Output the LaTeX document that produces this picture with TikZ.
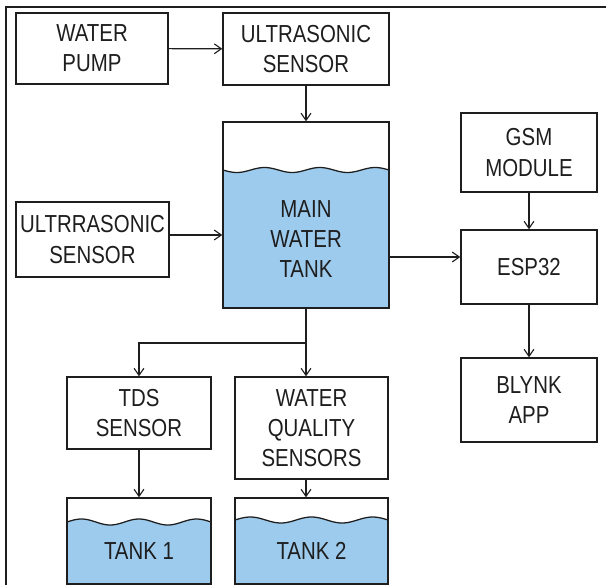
\documentclass[tikz,border=0pt]{standalone}
\usepackage{fontspec}
\setmainfont{Liberation Sans}[FakeStretch=0.83]
\usetikzlibrary{arrows.meta,backgrounds}
\definecolor{water}{RGB}{157,203,237}
\definecolor{ink}{RGB}{30,30,30}
\begin{document}
\begin{tikzpicture}[x=0.025cm, y=-0.025cm, >={Straight Barb[length=5pt,width=7pt]},
    every node/.style={font=\fontsize{17.5}{21.5}\selectfont, text=ink, align=center},
    blk/.style={draw=ink, line width=1pt, inner sep=0pt},
    link/.style={->, draw=ink, line width=0.8pt}]
    \useasboundingbox (0,0) rectangle (606,585);
    % 外枠（上と左だけ見える）
    \draw[ink, line width=1.4pt] (6,600) -- (6,7) -- (620,7);

    % 左上のブロック
    \node[blk, minimum width=3.8cm, minimum height=1.775cm] (pump) at (92,48.5) {WATER\\PUMP};
    \node[blk, minimum width=4.15cm, minimum height=1.8cm] (us1) at (306,49) {ULTRASONIC\\SENSOR};
    \node[blk, minimum width=3.825cm, minimum height=1.875cm] (us2) at (92.5,239.5) {ULTRRASONIC\\SENSOR};

    % メインタンク（外形のみ，文字は水面の下）
    \node[blk, minimum width=4.15cm, minimum height=4.65cm] (tank) at (306,215) {};
    \node (tanktxt) at (306,239) {MAIN\\WATER\\TANK};

    % 右側: GSM, ESP32, Blynk
    \node[blk, minimum width=3.4cm, minimum height=1.975cm] (gsm) at (529,152.5) {GSM\\MODULE};
    \node[blk, minimum width=3.4cm, minimum height=1.85cm] (esp) at (529,267) {ESP32};
    \node[blk, minimum width=3.4cm, minimum height=2.1cm] (blynk) at (529,400) {BLYNK\\APP};

    % 下段のセンサと小タンク
    \node[blk, minimum width=3.6cm, minimum height=1.8cm] (tds) at (139,413) {TDS\\SENSOR};
    \node[blk, minimum width=3.825cm, minimum height=2.55cm] (wq) at (311.5,428) {WATER\\QUALITY\\SENSORS};
    \node[blk, minimum width=3.6cm, minimum height=2.15cm] (tank1) at (139,541) {};
    \node (t1txt) at (139,551) {TANK 1};
    \node[blk, minimum width=3.825cm, minimum height=2.15cm] (tank2) at (311.5,541) {};
    \node (t2txt) at (311.5,551) {TANK 2};

    % 水面（波線）と水
    \begin{scope}[on background layer, samples=80]
      \fill[water, domain=223:389] plot ({\x}, {170+2.5*sin(6.506*(\x-223))}) -- (389,308) -- (223,308) -- cycle;
      \draw[ink, line width=0.9pt, domain=223:389] plot ({\x}, {170+2.5*sin(6.506*(\x-223))});
      \fill[water, domain=67:211] plot ({\x}, {522-3*sin(6.25*(\x-67))}) -- (211,584) -- (67,584) -- cycle;
      \draw[ink, line width=0.9pt, domain=67:211] plot ({\x}, {522-3*sin(6.25*(\x-67))});
      \fill[water, domain=235:388] plot ({\x}, {520-3*sin(5.882*(\x-235))}) -- (388,584) -- (235,584) -- cycle;
      \draw[ink, line width=0.9pt, domain=235:388] plot ({\x}, {520-3*sin(5.882*(\x-235))});
    \end{scope}

    % 矢印
    \coordinate (split) at (306,343);
    \draw[link] (pump) -- (us1);
    \draw[link] (us1) -- (tank);
    \draw[link] (us2.east |- 0,235) -- (tank.west |- 0,235);
    \draw[link] (tank.east |- 0,257) -- (esp.west |- 0,257);
    \draw[link] (gsm) -- (esp);
    \draw[link] (esp) -- (blynk);
    \draw[link] (tank.south) -- (split |- wq.north);
    \draw[link] (split) -| (tds.north);
    \draw[link] (tds) -- (tank1);
    \draw[link] (split |- wq.south) -- (split |- tank2.north);
  \end{tikzpicture}
\end{document}
